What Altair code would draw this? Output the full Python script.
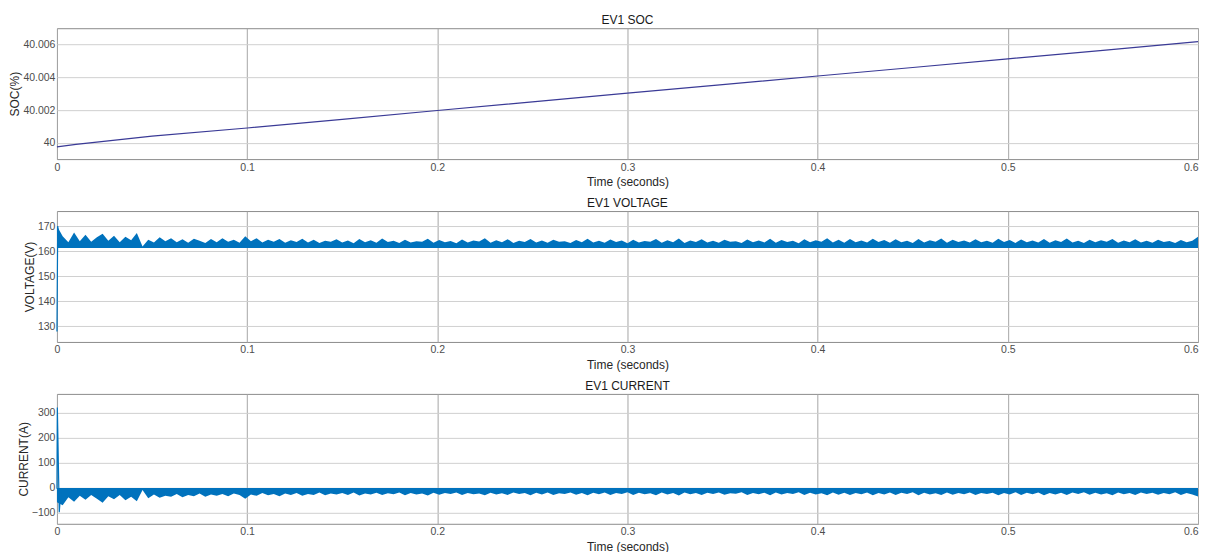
import altair as alt
import pandas as pd

# ---------------- data ----------------
time_ticks = [0, 0.1, 0.2, 0.3, 0.4, 0.5, 0.6]

# EV1 SOC (%)
soc_t = [0.0, 0.01, 0.05, 0.1, 0.15, 0.2, 0.25, 0.3, 0.35, 0.4, 0.45, 0.5, 0.55, 0.6]
soc_v = [39.99975, 39.99990, 40.00040, 40.00090, 40.00143, 40.00197, 40.00250,
         40.00303, 40.00355, 40.00408, 40.00460, 40.00513, 40.00565, 40.00618]
soc_ticks = [40, 40.002, 40.004, 40.006]

# EV1 VOLTAGE (V): start transient + envelope of the noisy band (step 0.003 s)
volt_start_t = [0.0, 0.0004, 0.0015]
volt_start_v = [128.0, 170.0, 163.0]
volt_base = 161.3
volt_hi = [
    170.0, 166.0, 163.6, 167.4, 164.0, 166.6, 163.8, 165.6, 167.0, 164.2,
    166.2, 163.6, 165.8, 164.4, 167.2, 161.9, 164.6, 163.5, 165.6, 164.0,
    165.2, 163.6, 164.8, 163.4, 165.0, 164.2, 163.3, 164.9, 163.6, 165.2,
    163.8, 164.6, 163.4, 166.0, 164.0, 165.2, 163.5, 164.6, 163.8, 164.9,
    163.4, 164.4, 163.7, 165.0, 163.5, 164.6, 163.3, 164.2, 163.8, 164.8,
    163.5, 164.3, 163.2, 164.9, 163.6, 164.4, 163.4, 165.1, 163.7, 164.2,
    163.3, 164.6, 163.5, 164.0, 163.8, 165.0, 163.4, 164.5, 163.6, 164.1,
    163.2, 164.7, 163.5, 164.3, 163.9, 165.2, 163.4, 164.4, 163.6, 164.8,
    163.3, 164.2, 163.7, 164.9, 163.5, 164.3, 163.4, 164.6, 163.8, 164.0,
    163.3, 164.5, 163.6, 165.0, 163.5, 164.2, 163.4, 164.7, 163.7, 164.3,
    163.2, 164.6, 163.5, 164.1, 163.8, 164.9, 163.4, 164.4, 163.6, 165.1,
    163.3, 164.3, 163.7, 164.8, 163.5, 164.2, 163.4, 164.6, 163.8, 164.0,
    163.3, 164.7, 163.6, 164.3, 163.5, 165.0, 163.4, 164.5, 163.7, 164.2,
    163.2, 164.8, 163.6, 164.4, 163.8, 165.2, 163.5, 164.6, 163.4, 164.9,
    163.6, 164.3, 163.5, 165.0, 163.7, 164.5, 163.4, 164.8, 163.6, 164.2,
    163.3, 164.9, 163.5, 164.4, 163.8, 165.1, 163.4, 164.6, 163.7, 164.3,
    163.5, 164.8, 163.6, 164.2, 163.4, 165.0, 163.7, 164.5, 163.3, 164.7,
    163.6, 164.3, 163.5, 164.9, 163.4, 164.4, 163.7, 165.1, 163.5, 164.2,
    163.3, 164.6, 163.6, 164.4, 163.8, 164.9, 163.4, 164.3, 163.6, 164.8,
    163.5, 164.2, 163.4, 164.6, 163.7, 164.1, 163.3, 164.5, 163.6, 164.2,
    165.8,
]
volt_ticks = [130, 140, 150, 160, 170]

# EV1 CURRENT (A): start transient + envelope of the noisy band (step 0.003 s)
cur_start_t = [0.0, 0.0002, 0.0012, 0.002]
cur_start_v = [-5.0, 320.0, -100.0, -20.0]
cur_top = -2.0
cur_lo = [
    -60, -72, -40, -58, -34, -50, -30, -46, -62, -36,
    -48, -30, -52, -38, -56, -10, -44, -28, -42, -34,
    -38, -26, -40, -30, -36, -24, -38, -28, -34, -26,
    -36, -24, -30, -46, -28, -34, -22, -32, -26, -36,
    -24, -30, -22, -34, -26, -30, -20, -32, -24, -28,
    -22, -30, -20, -33, -24, -28, -21, -30, -23, -27,
    -20, -31, -22, -28, -24, -33, -21, -29, -22, -26,
    -20, -30, -22, -27, -24, -32, -21, -28, -23, -30,
    -20, -26, -22, -31, -21, -28, -20, -30, -23, -26,
    -20, -29, -22, -32, -21, -27, -20, -30, -22, -26,
    -19, -30, -21, -27, -23, -31, -20, -28, -22, -33,
    -20, -27, -22, -30, -21, -26, -20, -29, -23, -25,
    -19, -30, -22, -27, -21, -32, -20, -28, -22, -26,
    -19, -30, -21, -28, -23, -31, -20, -29, -21, -30,
    -22, -27, -20, -31, -22, -28, -20, -30, -21, -26,
    -19, -31, -21, -28, -23, -30, -20, -29, -22, -27,
    -20, -30, -22, -26, -21, -32, -22, -28, -19, -30,
    -21, -27, -20, -31, -22, -28, -21, -30, -20, -26,
    -19, -29, -21, -28, -23, -31, -20, -27, -22, -30,
    -20, -26, -21, -29, -22, -27, -19, -30, -22, -28,
    -37,
]
cur_ticks = [-100, 0, 100, 200, 300]

TIME_STEP = 0.003

# ---------------- tables ----------------
soc_df = pd.DataFrame({"t": soc_t, "v": soc_v})
volt_df = pd.DataFrame({"t": [round(i * TIME_STEP, 4) for i in range(len(volt_hi))], "v": volt_hi})
volt_s_df = pd.DataFrame({"t": volt_start_t, "v": volt_start_v})
cur_df = pd.DataFrame({"t": [round(i * TIME_STEP, 4) for i in range(len(cur_lo))], "v": cur_lo})
cur_s_df = pd.DataFrame({"t": cur_start_t, "v": cur_start_v})

W, H = 1142, 131
BLUE = "#0072BD"
FONT = "Liberation Sans"


def xenc():
    return alt.X(
        "t:Q",
        scale=alt.Scale(domain=[0, 0.6], nice=False, zero=False),
        axis=alt.Axis(values=time_ticks, format="~g", title="Time (seconds)",
                      gridColor="#a6a6a6", labelPadding=3, titlePadding=4,
                      labelFlush=False,
                      labelAlign=alt.condition("datum.value >= 0.6", alt.value("right"),
                                               alt.value("center"))),
    )


def yenc(title, domain, ticks, fmt):
    return alt.Y(
        "v:Q",
        scale=alt.Scale(domain=domain, nice=False, zero=False),
        axis=alt.Axis(values=ticks, format=fmt, title=title, gridColor="#d0d0d0",
                      labelPadding=2, titlePadding=1),
    )


soc_chart = alt.Chart(soc_df).mark_line(color="#3a3a96", strokeWidth=1.2).encode(
    x=xenc(), y=yenc("SOC(%)", [39.999, 40.007], soc_ticks, ".6~g")
).properties(width=W, height=H, title="EV1 SOC")

volt_area = alt.Chart(volt_df).mark_area(color=BLUE, opacity=1).encode(
    x=xenc(), y=yenc("VOLTAGE(V)", [123.8, 176], volt_ticks, "d"),
    y2=alt.datum(volt_base),
)
volt_line = alt.Chart(volt_s_df).mark_line(color=BLUE, strokeWidth=1.2).encode(
    x=xenc(), y=yenc("VOLTAGE(V)", [123.8, 176], volt_ticks, "d")
)
volt_chart = alt.layer(volt_area, volt_line).properties(width=W, height=H, title="EV1 VOLTAGE")

cur_area = alt.Chart(cur_df).mark_area(color=BLUE, opacity=1).encode(
    x=xenc(), y=yenc("CURRENT(A)", [-146, 375], cur_ticks, "d"),
    y2=alt.datum(cur_top),
)
cur_line = alt.Chart(cur_s_df).mark_line(color=BLUE, strokeWidth=1.2).encode(
    x=xenc(), y=yenc("CURRENT(A)", [-146, 375], cur_ticks, "d")
)
cur_chart = alt.layer(cur_area, cur_line).properties(width=W, height=H - 1, title="EV1 CURRENT")

chart = alt.vconcat(soc_chart, volt_chart, cur_chart, spacing=8).properties(
    padding={"left": 0, "top": 5, "right": 0, "bottom": 0}
).configure(font=FONT).configure_view(
    stroke="#8c8c8c", strokeWidth=1
).configure_axis(
    labelFont=FONT, labelFontSize=10.5, labelColor="#4d4d4d",
    titleFont=FONT, titleFontSize=12, titleFontWeight="normal", titleColor="#262626",
    domain=False, ticks=False, gridWidth=1,
).configure_title(
    font=FONT, fontSize=12, fontWeight="normal", color="#1a1a1a", offset=1
)

chart.save("out.html", embed_options={"renderer": "svg", "actions": False})
